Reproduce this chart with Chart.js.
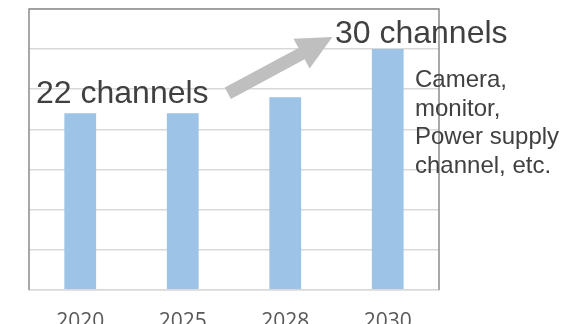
<!DOCTYPE html>
<html>
<head>
<meta charset="utf-8">
<script src="https://cdn.jsdelivr.net/npm/chart.js@4/dist/chart.umd.min.js"></script>
<style>
  html, body { margin: 0; padding: 0; background: #fff; overflow: hidden; width: 561px; height: 324px; }
  canvas { display: block; }
</style>
</head>
<body>
<canvas id="c" width="561" height="364" style="width:561px;height:364px"></canvas>
<script>
const categories = ['2020', '2025', '2028', '2030'];
const channels = [22, 22, 24, 30];
const yTicks = [0, 5, 10, 15, 20, 25, 30, 35];
const startLabel = '22 channels';
const endLabel = '30 channels';
const noteLines = ['Camera,', 'monitor,', 'Power supply', 'channel, etc.'];

const overlay = {
  id: 'overlay',
  afterDraw(chart) {
    const ctx = chart.ctx;
    const a = chart.chartArea;
    const xs = chart.scales.x, ys = chart.scales.y;
    ctx.save();
    // frame (left, top, right)
    ctx.strokeStyle = '#8c8c8c';
    ctx.lineWidth = 1.5;
    ctx.beginPath();
    ctx.moveTo(a.left, a.bottom);
    ctx.lineTo(a.left, a.top);
    ctx.lineTo(a.right, a.top);
    ctx.lineTo(a.right, a.bottom);
    ctx.stroke();

    // arrow from first value toward last value
    const tx = xs.getPixelForValue(1.44), ty = ys.getPixelForValue(24.5);
    const hx = xs.getPixelForValue(2.46), hy = ys.getPixelForValue(31.5);
    const dx = hx - tx, dy = hy - ty, len = Math.hypot(dx, dy);
    const ux = dx / len, uy = dy / len, px = -uy, py = ux;
    const sw = 6.5, hw = 17, hl = 35;
    const bx = hx - ux * hl, by = hy - uy * hl;
    ctx.fillStyle = '#bfbfbf';
    ctx.beginPath();
    ctx.moveTo(tx + px * sw, ty + py * sw);
    ctx.lineTo(bx + px * sw, by + py * sw);
    ctx.lineTo(bx + px * hw, by + py * hw);
    ctx.lineTo(hx, hy);
    ctx.lineTo(bx - px * hw, by - py * hw);
    ctx.lineTo(bx - px * sw, by - py * sw);
    ctx.lineTo(tx - px * sw, ty - py * sw);
    ctx.closePath();
    ctx.fill();

    // labels
    ctx.fillStyle = '#404040';
    ctx.textBaseline = 'alphabetic';
    ctx.textAlign = 'left';
    ctx.font = '32px "Liberation Sans", Arial, sans-serif';
    ctx.fillText(startLabel, a.left + 7, ys.getPixelForValue(23.25));
    ctx.fillText(endLabel, xs.getPixelForValue(2.485), ys.getPixelForValue(30.75));
    ctx.font = '24px "Liberation Sans", Arial, sans-serif';
    const lx = a.right - 24;
    let ly = 87;
    noteLines.forEach((t, i) => ctx.fillText(t, lx, ly + i * 28.7));
    ctx.restore();
  }
};

new Chart(document.getElementById('c'), {
  type: 'bar',
  data: {
    labels: categories,
    datasets: [{
      data: channels,
      backgroundColor: '#9dc3e6',
      borderWidth: 0,
      categoryPercentage: 1,
      barPercentage: 0.31
    }]
  },
  options: {
    responsive: false,
    animation: false,
    events: [],
    layout: { padding: { left: 29, top: 9, right: 122, bottom: 9 } },
    plugins: { legend: { display: false }, tooltip: { enabled: false } },
    scales: {
      x: {
        grid: { display: false, drawTicks: false },
        border: { display: true, color: '#d9d9d9', width: 1.5 },
        ticks: {
          padding: 20,
          color: '#595959',
          font: { family: '"Open Sans", sans-serif', size: 21 }
        }
      },
      y: {
        min: 0,
        max: 35,
        afterBuildTicks(scale) { scale.ticks = yTicks.map(v => ({ value: v })); },
        ticks: { display: false },
        grid: { color: '#d9d9d9', lineWidth: 1.5, drawTicks: false },
        border: { display: false }
      }
    }
  },
  plugins: [overlay]
});
</script>
</body>
</html>
